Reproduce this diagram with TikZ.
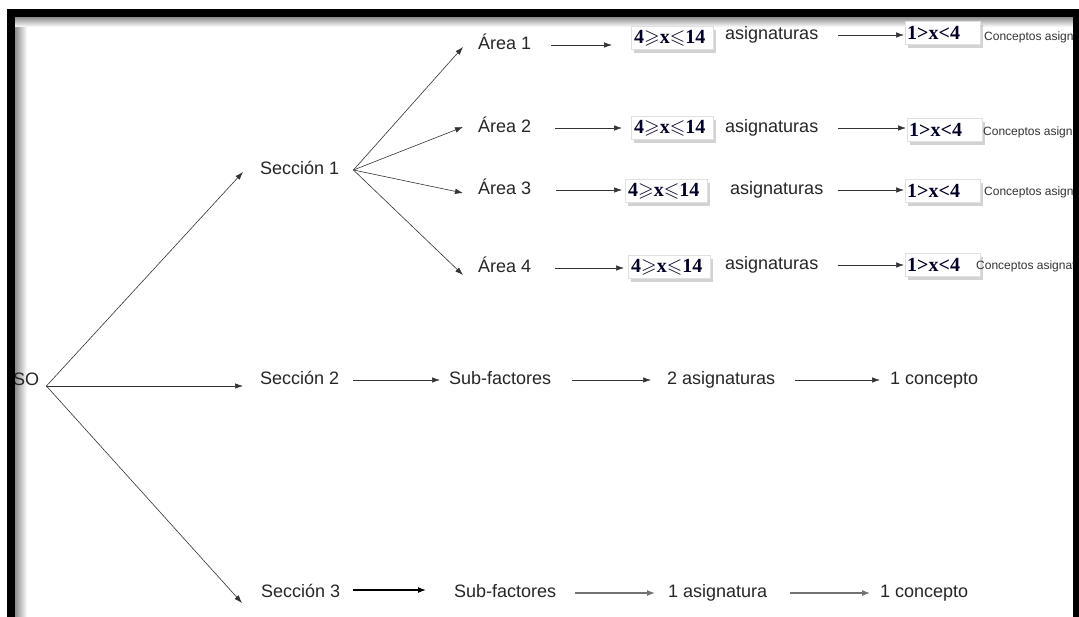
\documentclass[tikz,border=0pt]{standalone}
\usepackage{fontspec}
\setmainfont{Liberation Sans}
\newfontfamily\tnr{Liberation Serif}
\usepackage{amssymb}
\usetikzlibrary{arrows.meta,shadows,calc}
\begin{document}
\begin{tikzpicture}[x=1pt,y=-1pt,
  lbl/.style={font=\fontsize{18}{20}\selectfont, text=black!85, inner sep=0pt, anchor=west, text height=13pt, text depth=4pt},
  small/.style={font=\fontsize{12}{14}\selectfont, text=black!80, inner sep=0pt, anchor=west},
  rng/.style={fill=white, draw=black!12, line width=0.4pt, inner ysep=0pt, anchor=west, minimum height=23pt,
     font=\tnr\bfseries\fontsize{20}{22}\selectfont, text=black!85!blue, align=left,
     drop shadow={opacity=0.35,shadow xshift=3pt,shadow yshift=-4pt}},
  rngA/.style={rng, text width=76pt, inner xsep=3pt},
  rngB/.style={rng, text width=71pt, inner xsep=2pt},
  link/.style={draw=black!80, line width=0.6pt},
  arr/.style={link, -{Latex[length=8pt,width=5.5pt]}},
  heavy/.style={draw=black, line width=1.2pt, -{Latex[length=8pt,width=6pt]}},
  grayarr/.style={draw=black!55, line width=1.2pt, -{Latex[length=8pt,width=6pt]}},
]
\useasboundingbox (0,0) rectangle (1079,617);
\fill[white] (0,0) rectangle (1079,617);

% inner shadow of the frame
\shade[left color=black!45,right color=white] (15,17) rectangle (27,617);
\shade[top color=black!45,bottom color=white] (15,17) rectangle (1073,27);

% labels
\node[lbl] (so) at (13,381) {SO};
\node[lbl] (sec1) at (260,170) {Sección 1};
\node[lbl] (sec2) at (260,380) {Sección 2};
\node[lbl] (sec3) at (261,593) {Sección 3};

\node[lbl] (a1) at (478,45) {Área 1};
\node[lbl] (a2) at (478,128) {Área 2};
\node[lbl] (a3) at (478,190) {Área 3};
\node[lbl] (a4) at (478,268) {Área 4};

\node[rngA] (b1) at (631,38) {4$\geqslant$x$\leqslant$14};
\node[rngA] (b2) at (631,128) {4$\geqslant$x$\leqslant$14};
\node[rngA] (b3) at (625,191) {4$\geqslant$x$\leqslant$14};
\node[rngA] (b4) at (628,267) {4$\geqslant$x$\leqslant$14};

\node[lbl] (g1) at (725,35) {asignaturas};
\node[lbl] (g2) at (725,128) {asignaturas};
\node[lbl] (g3) at (730,190) {asignaturas};
\node[lbl] (g4) at (725,265) {asignaturas};

\node[rngB] (c1) at (905,33) {1>x<4};
\node[rngB] (c2) at (907,130) {1>x<4};
\node[rngB] (c3) at (905,191) {1>x<4};
\node[rngB] (c4) at (905,265) {1>x<4};

\node[small] (k1) at (984,37) {Conceptos asigna};
\node[small] (k2) at (983,132) {Conceptos asigna};
\node[small] (k3) at (984,192) {Conceptos asigna};
\node[small] (k4) at (976,266) {Conceptos asignat};

\node[lbl] (s2) at (449,380) {Sub-factores};
\node[lbl] (t2) at (667,380) {2 asignaturas};
\node[lbl] (u2) at (890,380) {1 concepto};
\node[lbl] (s3) at (454,593) {Sub-factores};
\node[lbl] (t3) at (668,593) {1 asignatura};
\node[lbl] (u3) at (880,593) {1 concepto};

% root fan
\coordinate (root) at ([xshift=7pt,yshift=-5pt]so.east);
\draw[arr] (root) -- ([xshift=-17pt,yshift=-2pt]sec1.west);
\draw[arr] (root) -- ([xshift=-17pt,yshift=-6pt]sec2.west);
\draw[arr] (root) -- ([xshift=-19pt,yshift=-10pt]sec3.west);

% section 1 fan
\coordinate (fan) at ([xshift=14pt]sec1.east);
\draw[arr] (fan) -- ([xshift=-15pt,yshift=-2pt]a1.west);
\draw[arr] (fan) -- ([xshift=-15pt,yshift=1pt]a2.west);
\draw[arr] (fan) -- ([xshift=-15pt,yshift=-3pt]a3.west);
\draw[arr] (fan) -- ([xshift=-15pt,yshift=-7pt]a4.west);

% area rows
\draw[arr, shorten <=20pt, shorten >=19pt] (a1.east) -- (a1.east -| b1.west);
\draw[arr, shorten <=24pt, shorten >=9pt] (a2.east) -- (a2.east -| b2.west);
\draw[arr, shorten <=25pt, shorten >=3pt] (a3.east) -- (a3.east -| b3.west);
\draw[arr, shorten <=24pt, shorten >=4pt] (a4.east) -- (a4.east -| b4.west);

\draw[arr, shorten <=20pt, shorten >=1pt] (g1.east) -- (g1.east -| c1.west);
\draw[arr, shorten <=20pt, shorten >=1pt] (g2.east) -- (g2.east -| c2.west);
\draw[arr, shorten <=15pt, shorten >=1pt] (g3.east) -- (g3.east -| c3.west);
\draw[arr, shorten <=20pt, shorten >=1pt] (g4.east) -- (g4.east -| c4.west);

% section 2 row
\draw[arr, shorten <=14pt, shorten >=9pt] (sec2.east) -- (s2.west);
\draw[arr, shorten <=21pt, shorten >=16pt] (s2.east) -- (t2.west);
\draw[arr, shorten <=20pt, shorten >=10pt] (t2.east) -- (u2.west);

% section 3 row
\draw[heavy, shorten <=13pt, shorten >=28pt] ([yshift=3pt]sec3.east) -- ([yshift=3pt]s3.west);
\draw[grayarr, shorten <=19pt, shorten >=13pt] (s3.east) -- (t3.west);
\draw[grayarr, shorten <=23pt, shorten >=10pt] (t3.east) -- (u3.west);

% frame
\fill[black] (7,9) rectangle (15,617);
\fill[black] (7,9) rectangle (1079,17);
\fill[black] (1073,9) rectangle (1079,617);
\end{tikzpicture}
\end{document}
